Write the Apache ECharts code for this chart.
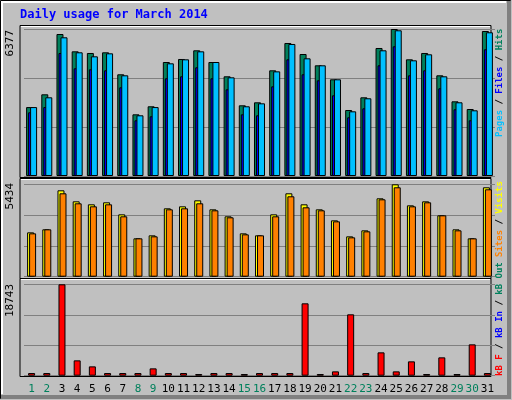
<!DOCTYPE html>
<html>
<head>
<meta charset="utf-8">
<script src="https://cdn.jsdelivr.net/npm/echarts@6/dist/echarts.min.js"></script>
<style>html,body{margin:0;padding:0;background:#c0c0c0}#c{width:512px;height:400px}</style>
</head>
<body>
<div id="c"></div>
<script>
// days of March 2014, weekends drawn green
const days = Array.from({ length: 31 }, (_, i) => String(i + 1));
const weekends = ['1', '2', '8', '9', '15', '16', '22', '23', '29', '30'];

// top panel
const hits = [2990, 3544, 6160, 5409, 5336, 5366, 4412, 2676, 3024, 4945, 5076, 5453, 4945, 4325, 3067, 3197,
  4585, 5770, 5292, 4802, 4195, 2863, 3414, 5553, 6377, 5062, 5336, 4368, 3240, 2906, 6290];
const files = [2763, 2990, 5336, 4672, 4628, 4585, 3847, 2416, 2590, 4238, 4325, 4715, 4238, 3760, 2676, 2633,
  3890, 5062, 4412, 4151, 3500, 2546, 2937, 4802, 5626, 4368, 4585, 3804, 2893, 2416, 5497];
const pages = [2990, 3414, 6017, 5366, 5192, 5322, 4368, 2633, 2990, 4888, 5062, 5409, 4945, 4281, 3024, 3153,
  4540, 5727, 5105, 4802, 4195, 2806, 3371, 5453, 6321, 5019, 5279, 4325, 3197, 2850, 6234];
// middle panel
const visits = [2609, 2786, 5081, 4433, 4257, 4375, 3668, 2256, 2433, 4022, 4139, 4492, 3963, 3551, 2550, 2433,
  3668, 4904, 4257, 3963, 3315, 2374, 2727, 4610, 5434, 4198, 4433, 3610, 2786, 2256, 5258];
const sites = [2550, 2786, 4904, 4316, 4139, 4257, 3551, 2256, 2374, 3963, 4022, 4316, 3904, 3492, 2491, 2433,
  3551, 4728, 4080, 3904, 3256, 2315, 2668, 4551, 5258, 4139, 4375, 3610, 2727, 2256, 5140];
// bottom panel
const kbF = [547, 547, 18743, 3147, 1915, 547, 547, 547, 1505, 547, 547, 342, 547, 547, 342, 547,
  547, 547, 14844, 342, 889, 12587, 547, 4788, 889, 2941, 342, 3762, 342, 6430, 547];
const maxLabels = ['6377', '5434', '18743'];
const maxVals = [6377, 5434, 18743];

const MONO = '"DejaVu Sans Mono", monospace';
const grids = [
  { left: 24, right: 17, top: 29, height: 147 },
  { left: 24, right: 17, top: 184.3, height: 92.4 },
  { left: 24, right: 17, top: 284.3, height: 91.4 },
];

const bar = (name, data, color, idx) => ({
  name, type: 'bar', data, xAxisIndex: idx, yAxisIndex: idx,
  barWidth: 7, barGap: '-71.4%', animation: false,
  itemStyle: { color, borderColor: '#000', borderWidth: 1 },
});

const panelBox = (y, h) => ({
  type: 'rect', z: -10, shape: { x: 20, y, width: 471, height: h },
  style: { fill: '#c0c0c0', stroke: '#000', lineWidth: 1 },
});
const whiteLine = (y) => ({
  type: 'line', z: -9, shape: { x1: 21, y1: y, x2: 490, y2: y }, style: { stroke: '#fff', lineWidth: 1 },
});
// legend text written bottom to top along the right edge
const vText = (x, yBottom, rich, text) => ({
  type: 'text', x, y: yBottom, rotation: Math.PI / 2, z: 5,
  style: { text, rich, font: 'bold 9px ' + MONO, align: 'left', verticalAlign: 'middle' },
});

const chart = echarts.init(document.getElementById('c'));
chart.setOption({
  backgroundColor: '#c0c0c0',
  animation: false,
  grid: grids,
  xAxis: grids.map((g, i) => ({
    type: 'category', data: days, gridIndex: i,
    axisLine: { show: false }, axisTick: { show: false },
    axisLabel: i === 2 ? {
      show: true, interval: 0, margin: 8,
      fontFamily: MONO, fontSize: 11,
      formatter: (v) => (weekends.includes(v) ? `{w|${v}}` : `{d|${v}}`),
      rich: { w: { color: '#00805c', fontFamily: MONO, fontSize: 11 }, d: { color: '#000', fontFamily: MONO, fontSize: 11 } },
    } : { show: false },
  })),
  yAxis: maxVals.map((m, i) => ({
    type: 'value', gridIndex: i, min: 0, max: m, interval: m / 3,
    axisLabel: { show: false }, axisLine: { show: false }, axisTick: { show: false },
    splitLine: { show: true, lineStyle: { color: '#808080', width: 1 } },
  })),
  series: [
    bar('Hits', hits, '#00805c', 0),
    bar('Files', files, '#0000ff', 0),
    bar('Pages', pages, '#00c0ff', 0),
    bar('Visits', visits, '#ffff00', 1),
    bar('Sites', sites, '#ff8000', 1),
    bar('kB F', kbF, '#ff0000', 2),
  ],
  graphic: [
    { type: 'rect', z: -20, shape: { x: 0.5, y: 0.5, width: 510, height: 398 }, style: { fill: '#c0c0c0', stroke: '#000', lineWidth: 1 } },
    { type: 'rect', z: -19, shape: { x: 1, y: 1, width: 505, height: 2 }, style: { fill: '#fff' } },
    { type: 'rect', z: -19, shape: { x: 1, y: 1, width: 2, height: 393 }, style: { fill: '#fff' } },
    { type: 'rect', z: -19, shape: { x: 507, y: 1, width: 4, height: 398 }, style: { fill: '#808080' } },
    { type: 'rect', z: -19, shape: { x: 1, y: 395, width: 510, height: 4 }, style: { fill: '#808080' } },
    panelBox(25.5, 152), panelBox(178.5, 100), panelBox(278.5, 98),
    whiteLine(26.5), whiteLine(179.5), whiteLine(279.5),
    { type: 'text', x: 20, y: 9, style: { text: 'Daily usage for March 2014', font: 'bold 12px ' + MONO, fill: '#0000ff' } },
    ...maxLabels.map((t, i) => ({
      type: 'text', x: 10, y: [30, 183, 284][i], rotation: Math.PI / 2,
      style: { text: t, font: '11px ' + MONO, fill: '#000', align: 'right', verticalAlign: 'middle' },
    })),
    vText(500, 137, {
      p: { fill: '#00c0ff' }, f: { fill: '#0000ff' }, h: { fill: '#00805c' }, s: { fill: '#000' },
    }, '{p|Pages}{s| / }{f|Files}{s| / }{h|Hits}'),
    vText(500, 257, {
      o: { fill: '#ff8000' }, v: { fill: '#ffff00' }, s: { fill: '#000' },
    }, '{o|Sites}{s| / }{v|Visits}'),
    vText(500, 376, {
      r: { fill: '#ff0000' }, b: { fill: '#0000ff' }, g: { fill: '#00805c' }, s: { fill: '#000' },
    }, '{r|kB F}{s| / }{b|kB In}{s| / }{g|kB Out}'),
  ],
});
</script>
</body>
</html>
